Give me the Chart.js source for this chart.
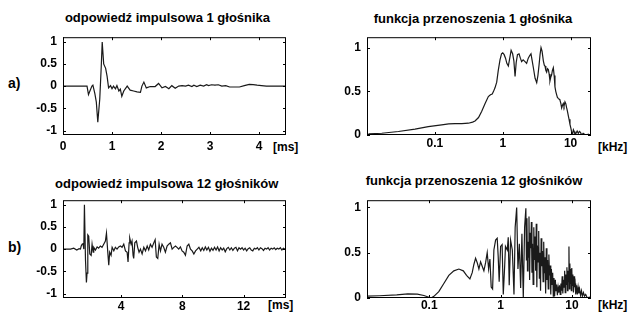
<!DOCTYPE html>
<html>
<head>
<meta charset="utf-8">
<script src="https://cdn.jsdelivr.net/npm/chart.js@4.4.1/dist/chart.umd.min.js"></script>
<style>
  body { margin: 0; width: 630px; height: 315px; background: #fff; position: relative; overflow: hidden;
         font-family: "Liberation Sans", Arial, sans-serif; font-weight: bold; color: #000; }
  canvas { position: absolute; }
  .txt { position: absolute; white-space: nowrap; line-height: 1; }
  .ttl { font-size: 13px; transform: translateX(-50%); }
  .lab { font-size: 14px; }
  .unit { font-size: 12px; }
</style>
</head>
<body>
<div class="txt ttl" style="left:167.5px;top:11.3px">odpowiedź impulsowa 1 głośnika</div>
<div class="txt ttl" style="left:473px;top:11.7px">funkcja przenoszenia 1 głośnika</div>
<div class="txt ttl" style="left:166.7px;top:176.7px">odpowiedź impulsowa 12 głośników</div>
<div class="txt ttl" style="left:474px;top:174px">funkcja przenoszenia 12 głośników</div>
<div class="txt lab" style="left:8px;top:76px">a)</div>
<div class="txt lab" style="left:8px;top:239.6px">b)</div>
<div class="txt unit" style="left:273px;top:140.8px">[ms]</div>
<div class="txt unit" style="left:598px;top:141.1px">[kHz]</div>
<div class="txt unit" style="left:268px;top:299.3px">[ms]</div>
<div class="txt unit" style="left:598px;top:298.6px">[kHz]</div>
<canvas id="ca"></canvas>
<canvas id="cb"></canvas>
<canvas id="cc"></canvas>
<canvas id="cd"></canvas>
<script>
// a) impulse response, 1 speaker [ms]
const timeA = [0, 0.49, 0.52, 0.59, 0.61, 0.65, 0.68, 0.71, 0.75, 0.78,
  0.80, 0.83, 0.87, 0.90, 0.93, 0.97, 1.00, 1.03, 1.07, 1.10,
  1.14, 1.17, 1.20, 1.24, 1.31, 1.37, 1.44, 1.51, 1.58, 1.61,
  1.65, 1.70, 1.78, 1.88, 1.95, 2.02, 2.09, 2.16, 2.22, 2.29,
  2.36, 2.43, 2.50, 2.56, 2.63, 2.67, 2.73, 2.80, 2.87, 2.93,
  2.97, 3.03, 3.10, 3.17, 3.24, 3.32, 3.40, 3.50, 3.60, 3.70,
  3.80, 3.88, 3.96, 4.05, 4.15, 4.55];
const impA = [0, 0, -0.19, 0.0, 0.02, -0.17, -0.36, -0.81, -0.29, 0.43,
  0.99, 0.50, 0.40, 0.22, -0.04, 0.01, -0.06, 0.0, -0.06, 0.01,
  -0.11, -0.07, -0.23, -0.11, 0.0, -0.09, -0.11, -0.13, -0.14, 0.0,
  0.09, -0.04, -0.01, -0.01, 0.06, -0.04, -0.01, -0.06, 0.01, -0.05,
  0.0, 0.01, 0.0, 0.02, -0.01, 0.02, -0.01, 0.02, 0.0, 0.03,
  0.01, 0.03, 0.02, 0.03, 0.0, 0.01, -0.02, -0.02, -0.02, 0.01,
  0.04, 0.035, 0.02, 0.01, 0.0, 0.0];

// b) impulse response, 12 speakers [ms]
const timeB = [0.2, 0.69, 0.9, 1.1, 1.25, 1.34, 1.39, 1.45, 1.51, 1.56,
  1.6, 1.67, 1.73, 1.77, 1.82, 1.88, 1.95, 2.04, 2.1, 2.17,
  2.21, 2.32, 2.43, 2.53, 2.64, 2.75, 2.86, 2.97, 3.04, 3.12,
  3.19, 3.25, 3.34, 3.41, 3.52, 3.62, 3.73, 3.84, 3.95, 4.06,
  4.17, 4.28, 4.39, 4.45, 4.52, 4.56, 4.65, 4.71, 4.78, 4.82,
  4.89, 5.0, 5.08, 5.17, 5.26, 5.37, 5.48, 5.59, 5.7, 5.8,
  5.91, 6.02, 6.13, 6.22, 6.3, 6.39, 6.48, 6.57, 6.67, 6.78,
  6.89, 7.0, 7.11, 7.22, 7.33, 7.44, 7.55, 7.65, 7.76, 7.87,
  7.98, 8.09, 8.2, 8.31, 8.42, 8.53, 8.64, 8.75, 8.86, 8.97,
  9.08,
  9.2, 9.3, 9.4, 9.5, 9.6, 9.7, 9.8, 9.9, 10.0, 10.1,
  10.2, 10.3, 10.4, 10.5, 10.6, 10.7, 10.8, 10.9, 11.0, 11.1,
  11.2, 11.3, 11.4, 11.5, 11.6, 11.7, 11.8, 11.9, 12.0, 12.1,
  12.2, 12.3, 12.4, 12.5, 12.6, 12.7, 12.8, 12.9, 13.0, 13.1,
  13.2, 13.3, 13.4, 13.5, 13.6, 13.7, 13.8, 13.9, 14.0, 14.1,
  14.2, 14.3, 14.4, 14.5, 14.6, 14.75];
const impB = [0, 0, 0.02, -0.02, 0.01, 0, 0.07, 0.11, 0.12, 0,
  1.0, -0.25, -0.75, -0.54, 0.32, 0.29, -0.11, -0.14, 0.11, -0.07,
  0.04, -0.02, 0.05, 0.02, 0.07, 0.04, 0.11, 0.18, 0.36, -0.04,
  -0.36, -0.07, -0.14, 0.04, -0.04, 0.04, 0, 0.05, 0.07, 0.04,
  0.11, -0.04, -0.07, -0.29, 0.14, 0.25, 0.11, 0.18, -0.14, -0.21,
  0.14, 0.18, 0.04, -0.07, 0, -0.11, 0.04, -0.04, 0.07, -0.02,
  0.11, 0.04, 0.14, 0.21, -0.18, -0.21, 0.11, -0.04, 0.11, 0.04,
  -0.07, 0.07, 0.11, 0.14, 0, 0.04, 0.07, 0.04, 0, 0.05,
  -0.04, -0.07, -0.14, 0.07, 0.11, 0, -0.04, -0.11, -0.04, 0,
  0.04,
  -0.04, 0.03, -0.03, 0.05, -0.02, 0.04, -0.05, 0.02, -0.03, 0.04,
  -0.02, 0.05, -0.04, 0.03, -0.02, 0.02, -0.06, 0.01, 0.04, -0.02,
  0.03, -0.03, 0.02, 0.04, -0.04, 0.03, 0, 0.03, -0.02, 0.02,
  -0.04, 0.01, 0.03, -0.02, -0.04, 0.02, 0, 0.03, -0.02, 0.03,
  0.01, -0.03, 0.02, 0, 0.03, -0.02, 0.02, 0, 0.03, -0.01,
  0.02, 0, 0.03, -0.02, 0.02, -0.01];

// c) transfer function, 1 speaker [kHz]
const freqC = [0.0105, 0.0165, 0.029, 0.051, 0.08, 0.126, 0.16, 0.198, 0.25, 0.312,
  0.36, 0.391, 0.44, 0.491, 0.55, 0.614, 0.66, 0.70, 0.727, 0.77,
  0.816, 0.86, 0.912, 0.96, 1.0, 1.05, 1.1, 1.15, 1.21, 1.27,
  1.33, 1.40, 1.46, 1.52, 1.58, 1.65, 1.74, 1.82, 1.90, 2.0,
  2.13, 2.25, 2.38, 2.5, 2.61, 2.72, 2.83, 3.0, 3.17, 3.3,
  3.43, 3.55, 3.67, 3.8, 3.97, 4.1, 4.2, 4.32, 4.44, 4.57,
  4.7, 4.83, 4.97, 5.1, 5.26, 5.4, 5.57, 5.73, 5.89, 6.05,
  6.24, 6.4, 6.59, 6.8, 6.98, 7.2, 7.39, 7.6, 7.81, 8.0,
  8.27, 8.5, 8.76, 9.0, 9.27, 9.5, 9.8, 10.1, 10.4, 10.7,
  11.0, 11.3, 11.6, 12.0, 12.5, 13.0, 13.5, 14.0, 14.6, 15.3,
  16.2, 17.3, 18.2, 19.3, 20];
const magC = [0.013, 0.02, 0.04, 0.068, 0.095, 0.116, 0.128, 0.131, 0.13, 0.135,
  0.148, 0.16, 0.2, 0.271, 0.36, 0.44, 0.46, 0.47, 0.494, 0.54,
  0.605, 0.74, 0.86, 0.93, 0.94, 0.92, 0.88, 0.82, 0.79, 0.88,
  0.97, 0.93, 0.85, 0.67, 0.83, 0.92, 0.93, 0.88, 0.84, 0.86,
  0.84, 0.82, 0.88, 0.91, 0.93, 0.85, 0.77, 0.65, 0.60, 0.68,
  0.8, 0.92, 1.0, 0.96, 0.85, 0.80, 0.79, 0.74, 0.72, 0.76,
  0.75, 0.70, 0.62, 0.66, 0.69, 0.74, 0.77, 0.68, 0.55, 0.50,
  0.46, 0.43, 0.42, 0.41, 0.40, 0.36, 0.31, 0.34, 0.36, 0.33,
  0.38, 0.36, 0.31, 0.27, 0.22, 0.18, 0.12, 0.08, 0.03, 0.01,
  0.06, 0.04, 0.01, 0.02, 0.045, 0.02, 0.04, 0.03, 0.0, 0.02,
  0.005, 0.0, 0.01, 0.0, 0.0];

// d) transfer function, 12 speakers [kHz]
const freqD = [0.0135, 0.02, 0.035, 0.05, 0.068, 0.084, 0.099, 0.106, 0.116, 0.136,
  0.16, 0.188, 0.221, 0.26, 0.30, 0.333, 0.371, 0.40, 0.422, 0.446,
  0.47, 0.496, 0.524, 0.552, 0.583, 0.616, 0.649, 0.679, 0.708, 0.738,
  0.772, 0.805, 0.851, 0.896, 0.925, 0.955, 1.0, 1.05, 1.09, 1.14,
  1.17, 1.24, 1.28, 1.32, 1.38, 1.46, 1.54, 1.60, 1.68, 1.75,
  1.83, 1.91, 1.99, 2.08, 2.17, 2.26, 2.30, 2.34, 2.38, 2.42,
  2.46, 2.50, 2.55, 2.60, 2.65, 2.70, 2.75, 2.80, 2.86, 2.92,
  2.98, 3.04, 3.10, 3.16, 3.22, 3.28, 3.35, 3.42, 3.49, 3.56,
  3.63, 3.70, 3.78, 3.86, 3.94, 4.02, 4.10, 4.19, 4.28, 4.37,
  4.46, 4.55, 4.65, 4.75, 4.85, 4.95, 5.05, 5.15, 5.26, 5.37,
  5.48, 5.60, 5.72, 5.85, 5.98, 6.10, 6.25, 6.40, 6.55, 6.70,
  6.85, 7.0, 7.15, 7.3, 7.45, 7.6, 7.75, 7.9, 8.05, 8.2,
  8.35, 8.5, 8.65, 8.8, 8.95, 9.08, 9.2, 9.35, 9.5, 9.65,
  9.8, 9.95, 10.1, 10.3, 10.5, 10.7, 10.9, 11.1, 11.3, 11.6,
  11.9, 12.2, 12.5, 12.8, 13.2, 13.6, 14.0, 14.5, 15.0, 15.6,
  16.4, 17.5, 18.5];
const magD = [0.02, 0.025, 0.035, 0.045, 0.043, 0.028, 0.008, 0.0, 0.018, 0.07,
  0.16, 0.25, 0.30, 0.32, 0.30, 0.25, 0.21, 0.28, 0.37, 0.44,
  0.39, 0.32, 0.40, 0.35, 0.30, 0.39, 0.50, 0.32, 0.43, 0.12,
  0.10, 0.53, 0.64, 0.66, 0.46, 0.18, 0.57, 0.59, 0.04, 0.35,
  0.57, 0.53, 0.67, 0.14, 0.64, 0.53, 0.04, 0.78, 1.0, 0.32,
  0.60, 0.11, 0.71, 0.0, 0.78, 0.99, 0.42, 0.88, 0.30, 0.62,
  0.45, 0.90, 0.20, 0.72, 0.55, 0.84, 0.28, 0.60, 0.15, 0.78,
  0.42, 0.68, 0.30, 0.82, 0.12, 0.58, 0.40, 0.74, 0.22, 0.50,
  0.08, 0.66, 0.35, 0.52, 0.18, 0.62, 0.28, 0.45, 0.05, 0.55,
  0.20, 0.42, 0.10, 0.48, 0.25, 0.36, 0.04, 0.32, 0.15, 0.28,
  0.02, 0.22, 0.02, 0.20, 0.08, 0.15, 0.03, 0.12, 0.06, 0.14,
  0.04, 0.16, 0.08, 0.24, 0.05, 0.20, 0.12, 0.30, 0.06, 0.26,
  0.15, 0.34, 0.08, 0.30, 0.18, 0.57, 0.10, 0.38, 0.16, 0.32,
  0.08, 0.33, 0.14, 0.26, 0.06, 0.24, 0.12, 0.16, 0.04, 0.14,
  0.04, 0.12, 0.05, 0.10, 0.03, 0.08, 0.02, 0.06, 0.02, 0.04,
  0.0, 0.01, 0.0];

const impTicks = [-1, -0.5, 0, 0.5, 1];
const magTicks = [0, 0.5, 1];
const msTicksA = [0, 1, 2, 3, 4];
const msTicksB = [4, 8, 12];
const kHzTicks = [0.1, 1, 10];

Chart.defaults.font.family = '"Liberation Sans", Arial, sans-serif';
Chart.defaults.font.size = 12;
Chart.defaults.font.weight = 'bold';
Chart.defaults.color = '#000';

// box around plot area with short inward tick marks (MATLAB look)
const frame = {
  id: 'frame',
  afterDatasetsDraw(chart) {
    const { ctx, chartArea: a, scales: { x, y } } = chart;
    ctx.save();
    ctx.strokeStyle = '#000';
    ctx.lineWidth = 1;
    ctx.strokeRect(a.left + 0.5, a.top + 0.5, a.width - 1, a.height - 1);
    ctx.beginPath();
    x.ticks.forEach(t => {
      const px = Math.round(x.getPixelForValue(t.value)) + 0.5;
      ctx.moveTo(px, a.bottom); ctx.lineTo(px, a.bottom - 3);
      ctx.moveTo(px, a.top); ctx.lineTo(px, a.top + 3);
    });
    y.ticks.forEach(t => {
      const py = Math.round(y.getPixelForValue(t.value)) + 0.5;
      ctx.moveTo(a.left, py); ctx.lineTo(a.left + 3, py);
      ctx.moveTo(a.right, py); ctx.lineTo(a.right - 3, py);
    });
    ctx.stroke();
    ctx.restore();
  }
};

function panel(id, box, xs, ys, o) {
  const cv = document.getElementById(id);
  const yW = 40, padTop = 10, padRight = 12;
  cv.width = box.r - box.l + yW + padRight;
  cv.height = box.b - box.t + padTop + o.xH;
  cv.style.left = (box.l - yW) + 'px';
  cv.style.top = (box.t - padTop) + 'px';
  return new Chart(cv, {
    type: 'line',
    data: {
      datasets: [{
        data: xs.map((x, i) => ({ x: x, y: ys[i] })),
        borderColor: '#1a1a1a',
        borderWidth: 1.2,
        pointRadius: 0,
        tension: 0
      }]
    },
    options: {
      responsive: false,
      animation: false,
      events: [],
      layout: { padding: { top: padTop, right: padRight, left: 0, bottom: 0 } },
      plugins: { legend: { display: false }, tooltip: { enabled: false } },
      scales: {
        x: {
          type: o.xType, min: o.xMin, max: o.xMax,
          grid: { display: false, drawTicks: false }, border: { display: false },
          afterBuildTicks: s => { s.ticks = o.xTicks.map(v => ({ value: v })); },
          afterFit: s => { s.height = o.xH; },
          ticks: { padding: o.xPad, autoSkip: false, maxRotation: 0, callback: v => String(v) }
        },
        y: {
          type: 'linear', min: o.yMin, max: o.yMax,
          grid: { display: false, drawTicks: false }, border: { display: false },
          afterBuildTicks: s => { s.ticks = o.yTicks.map(v => ({ value: v })); },
          afterFit: s => { s.width = yW; },
          ticks: { padding: 6, callback: v => String(v) }
        }
      }
    },
    plugins: [frame]
  });
}

panel('ca', { l: 63, t: 34, r: 286, b: 135 }, timeA, impA,
  { xType: 'linear', xMin: 0, xMax: 4.55, xTicks: msTicksA, yMin: -1.1, yMax: 1.1, yTicks: impTicks, xH: 22, xPad: 4 });
panel('cb', { l: 63, t: 197, r: 286, b: 298 }, timeB, impB,
  { xType: 'linear', xMin: 0.2, xMax: 14.77, xTicks: msTicksB, yMin: -1.1, yMax: 1.1, yTicks: impTicks, xH: 17, xPad: 1 });
panel('cc', { l: 367, t: 34, r: 591, b: 135 }, freqC, magC,
  { xType: 'logarithmic', xMin: 0.01, xMax: 20, xTicks: kHzTicks, yMin: 0, yMax: 1.12, yTicks: magTicks, xH: 22, xPad: 1 });
panel('cd', { l: 367, t: 197, r: 591, b: 298 }, freqD, magD,
  { xType: 'logarithmic', xMin: 0.0134, xMax: 18.5, xTicks: kHzTicks, yMin: 0, yMax: 1.08, yTicks: magTicks, xH: 17, xPad: 0 });
</script>
</body>
</html>
